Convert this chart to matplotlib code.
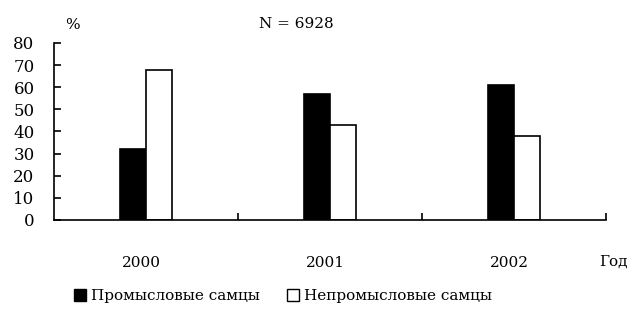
import matplotlib
matplotlib.use("Agg")
import matplotlib.pyplot as plt
import matplotlib.transforms as mtransforms
from matplotlib.patches import Patch
import numpy as np

plt.rcParams['font.family'] = ['DejaVu Serif']

years = ['2000', '2001', '2002']
commercial = [32, 57, 61]       # Промысловые самцы
noncommercial = [68, 43, 38]    # Непромысловые самцы

fig = plt.figure(figsize=(6.32, 3.16), dpi=100)
ax = fig.add_axes([0.0854, 0.304, 0.8736, 0.56])

x = np.arange(len(years))
w = 0.14
ax.bar(x - w / 2, commercial, w, color='black', edgecolor='black', linewidth=1.2)
ax.bar(x + w / 2, noncommercial, w, color='white', edgecolor='black', linewidth=1.2)

ax.set_xlim(-0.5, 2.5)
ax.set_ylim(0, 80)
ax.set_yticks(np.arange(0, 81, 10))

ax.spines['top'].set_visible(False)
ax.spines['right'].set_visible(False)
ax.spines['left'].set_linewidth(1.2)
ax.spines['bottom'].set_linewidth(1.2)

ax.set_xticks(x)
ax.set_xticklabels(years)
ax.set_xticks([0.5, 1.5, 2.5], minor=True)
ax.tick_params(axis='x', which='major', length=0, pad=26, labelsize=11)
ax.tick_params(axis='x', which='minor', direction='in', length=5, width=1.2)
ax.tick_params(axis='y', direction='in', length=5, width=1.2, pad=14, labelsize=12)

# year labels sit a little left of the bar pair in the original
shift = mtransforms.ScaledTranslation(-5 / 100, 0, fig.dpi_scale_trans)
for lbl in ax.get_xticklabels():
    lbl.set_transform(lbl.get_transform() + shift)

fig.text(65 / 632, 1 - 25 / 316, '%', fontsize=11, ha='left', va='center')
fig.text(296 / 632, 1 - 24 / 316, 'N = 6928', fontsize=11, ha='center', va='center')
fig.text(628 / 632, 1 - 262 / 316, 'Год', fontsize=11, ha='right', va='center')

handles = [Patch(facecolor='black', edgecolor='black'),
           Patch(facecolor='white', edgecolor='black')]
fig.legend(handles, ['Промысловые самцы', 'Непромысловые самцы'],
           loc='center', bbox_to_anchor=(283 / 632, 1 - 296 / 316), ncol=2,
           frameon=False, fontsize=11, handlelength=0.8, handleheight=0.8,
           handletextpad=0.3, columnspacing=1.8)

fig.savefig('out.png', dpi=100)
